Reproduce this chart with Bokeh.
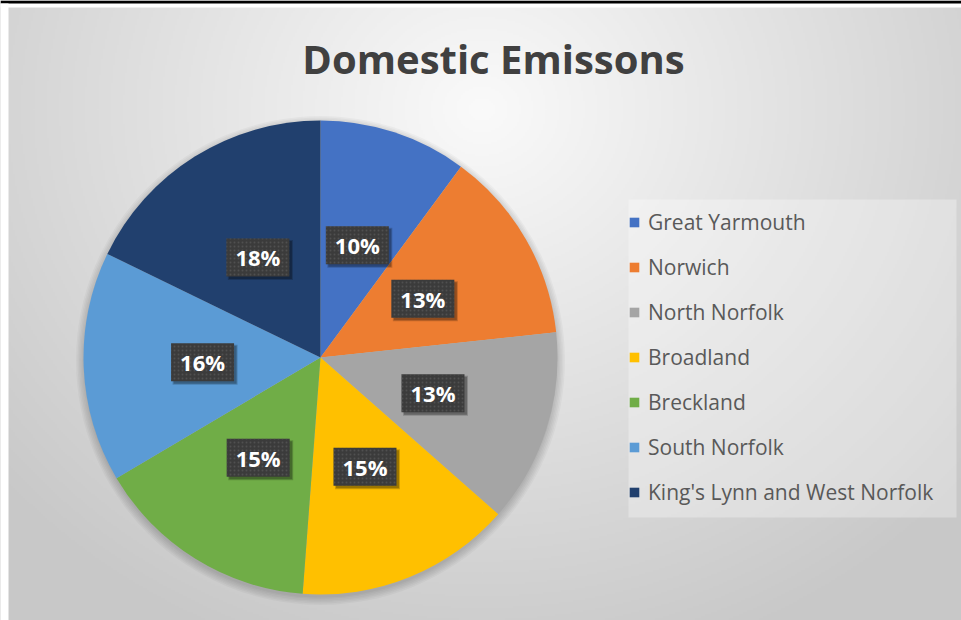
import numpy as np
from bokeh.plotting import figure
from bokeh.models import ColumnDataSource, Range1d
from bokeh.core.properties import value
from bokeh.embed import file_html
from bokeh.resources import INLINE

# ---- data ----
categories = ["Great Yarmouth", "Norwich", "North Norfolk", "Broadland",
              "Breckland", "South Norfolk", "King's Lynn and West Norfolk"]
shares = [10.1, 13.2, 13.2, 14.7, 15.3, 15.7, 17.8]
colors = ["#4472C4", "#ED7D31", "#A5A5A5", "#FFC000", "#70AD47", "#5B9BD5", "#21406E"]
title_text = "Domestic Emissons"

# ---- layout (pixel-like data units, y up) ----
W, H = 961, 620
CX, CY, R = 320, 263, 237

p = figure(width=W, height=H, output_backend="svg", toolbar_location=None,
           x_range=Range1d(0, W), y_range=Range1d(0, H), min_border=0)
p.xaxis.visible = False
p.yaxis.visible = False
p.grid.visible = False
p.outline_line_color = None
p.background_fill_color = "#dcdcdc"
p.border_fill_color = "#dcdcdc"

# background radial gradient (style only)
gh, gw = H // 2, W // 2
yy, xx = np.mgrid[0:gh, 0:gw]
sx = xx * 2.0
sy = H - (yy * 2.0)          # screen y of each row (row 0 = bottom)
d = np.sqrt(((sx - 480) / 640.0) ** 2 + ((sy - 110) / 580.0) ** 2)
d = np.clip(d, 0, 1)
g = (250 - d * 50).astype(np.uint32)
img = (255 << 24) | (g << 16) | (g << 8) | g
p.image_rgba(image=[img.astype(np.uint32)], x=0, y=0, dw=W, dh=H)

# screenshot frame strips (style only)
p.quad(left=0, right=W, top=H, bottom=H - 7, fill_color="white", line_color=None)
p.quad(left=0, right=W, top=H, bottom=H - 3, fill_color="black", line_color=None)
p.quad(left=0, right=8, top=H - 3, bottom=0, fill_color="white", line_color=None)

# legend panel background (style only)
p.quad(left=628, right=956, top=421, bottom=103, fill_color="white",
       fill_alpha=0.3, line_color=None)

# pie data
total = float(sum(shares))
frac = np.array(shares) / total
cum = np.cumsum(frac)
prev = cum - frac
start = np.pi / 2 - 2 * np.pi * prev
end = np.pi / 2 - 2 * np.pi * cum
mid = np.pi / 2 - 2 * np.pi * (prev + frac / 2)
labels = ["%d%%" % round(f * 100) for f in frac]

lx = CX + 0.498 * R * np.cos(mid)
ly = CY + 0.498 * R * np.sin(mid)
src = ColumnDataSource(dict(name=categories, color=colors, start=start, end=end,
                            lx=lx, ly=ly, label=labels))

# soft shadow under pie
for i in range(6):
    p.circle(x=CX, y=CY - 3, radius=R + i * 1.5, fill_color="black",
             fill_alpha=0.03, line_color=None)

p.wedge(x=CX, y=CY, radius=R, start_angle="start", end_angle="end",
        direction="clock", fill_color="color", line_color=None,
        source=src, legend_field="name")

# data label boxes with shadow
src2 = ColumnDataSource(dict(lx=lx + 2.5, ly=ly - 2.5))
p.rect(x="lx", y="ly", width=65, height=40, source=src2, fill_color="black",
       fill_alpha=0.18, line_color=None)
p.rect(x="lx", y="ly", width=63, height=38, source=src2, fill_color="black",
       fill_alpha=0.25, line_color=None)
p.rect(x="lx", y="ly", width=63, height=38, source=src, fill_color="#3b3b3b",
       line_color=None, hatch_pattern="dot", hatch_color="#5e5e5e",
       hatch_scale=4, hatch_weight=1, hatch_alpha=0.6)
p.text(x="lx", y="ly", text="label", source=src, text_color="white",
       text_font=value("Open Sans"), text_font_style="bold",
       text_font_size="22px", text_align="center", text_baseline="middle")

# title
p.text(x=[493], y=[562], text=[title_text], text_color="#404040",
       text_font=value("Open Sans"), text_font_style="bold",
       text_font_size="40px", text_align="center", text_baseline="middle")

# legend
lg = p.legend[0]
lg.location = (628, 114)
lg.orientation = "vertical"
lg.background_fill_alpha = 0
lg.border_line_color = None
lg.label_text_font = "Open Sans"
lg.label_text_font_size = "21px"
lg.label_text_color = "#595959"
lg.glyph_width = 12
lg.glyph_height = 12
lg.label_standoff = 8
lg.label_height = 24
lg.spacing = 17
lg.padding = 14
lg.margin = 0

open("out.html", "w").write(file_html(p, INLINE))
